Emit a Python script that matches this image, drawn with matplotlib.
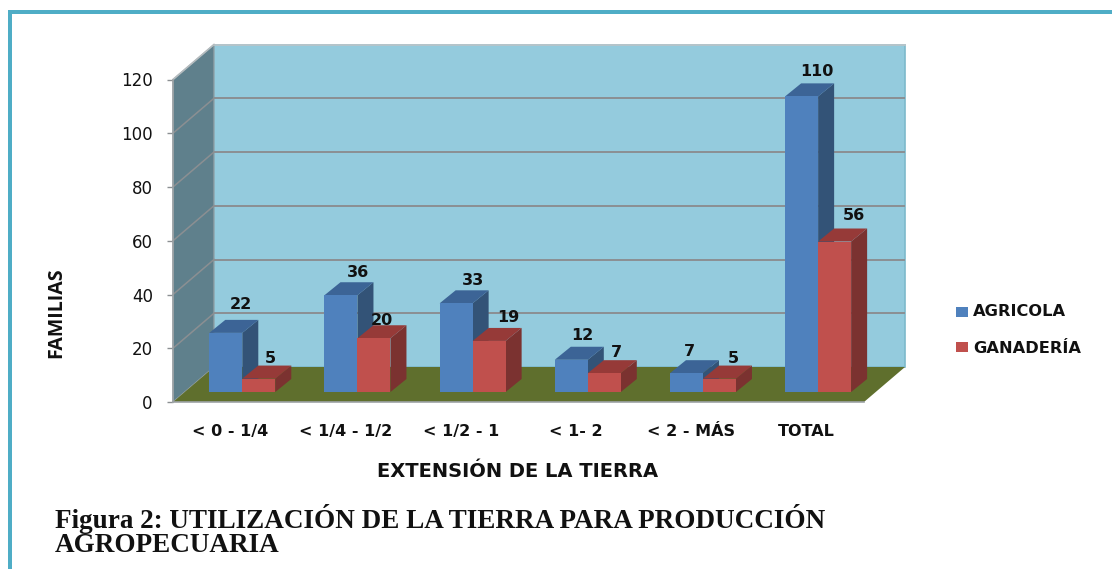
import matplotlib
matplotlib.use("Agg")
import matplotlib.pyplot as plt
from matplotlib.patches import Polygon, Rectangle

categories = ["< 0 - 1/4", "< 1/4 - 1/2", "< 1/2 - 1", "< 1- 2", "< 2 - MÁS", "TOTAL"]
agricola = [22, 36, 33, 12, 7, 110]
ganaderia = [5, 20, 19, 7, 5, 56]
y_ticks = [0, 20, 40, 60, 80, 100, 120]

W, H = 1112, 569
fig = plt.figure(figsize=(W / 100, H / 100), dpi=100, facecolor="white")

# overlay in pixel coords for the frame and caption
bg = fig.add_axes([0, 0, 1, 1])
bg.set_xlim(0, W)
bg.set_ylim(H, 0)
bg.axis("off")
frame = "#4FADC6"
bg.add_patch(Rectangle((8, 10), 4, H - 10, color=frame, lw=0))
bg.add_patch(Rectangle((8, 10), W - 8, 4, color=frame, lw=0))

# front plane of the 3d box: x 173-864 px, y 402-79.5 px
left, right, bottom, top = 173, 864, 402, 79.5
ax = fig.add_axes([left / W, 1 - bottom / H, (right - left) / W, (bottom - top) / H], facecolor="none")
ax.set_xlim(0, 6)
ax.set_ylim(0, 120)
ax.patch.set_visible(False)

# depth of the box in data units
box_dx = 41 / 115.17
box_dy = 35 / 2.6875
# bars sit part way into the box
base_dx = box_dx * 10 / 35
base_dy = box_dy * 10 / 35
bar_w = 0.2865
bar_dx = 16 / 115.17
bar_dy = 13 / 2.6875

# hand placed label nudges in px (x, up), the original labels are not regular
nudge_a = [(4, 4), (6, -2), (5, -2), (0, 0), (-8, -3), (4, 0)]
nudge_g = [(0, -4), (-4, -7), (8, -1), (1, -4), (2, -4), (8, 1)]


def poly(pts, color, z, edge="none", lw=0):
    ax.add_patch(Polygon(pts, closed=True, facecolor=color, edgecolor=edge, lw=lw,
                         zorder=z, clip_on=False))


# walls and floor
poly([(box_dx, box_dy), (6 + box_dx, box_dy), (6 + box_dx, 120 + box_dy), (box_dx, 120 + box_dy)],
     "#94CBDD", 1, "#7DB9CB", 1.2)
poly([(0, 0), (box_dx, box_dy), (box_dx, 120 + box_dy), (0, 120)], "#5F808C", 1, "#9AA5A9", 0.8)
poly([(0, 0), (6, 0), (6 + box_dx, box_dy), (box_dx, box_dy)], "#5F6F2D", 2)

# gridlines on both walls
for v in y_ticks[1:-1]:
    ax.plot([box_dx, 6 + box_dx], [v + box_dy, v + box_dy], color="#8B8F92", lw=1.4, zorder=3,
            clip_on=False, solid_capstyle="butt")
    ax.plot([0, box_dx], [v, v + box_dy], color="#8B8F92", lw=1.1, zorder=3, clip_on=False)
ax.plot([box_dx, 6 + box_dx], [120 + box_dy, 120 + box_dy], color="#B5C5CA", lw=1.4, zorder=3, clip_on=False)
ax.plot([0, box_dx], [120, 120 + box_dy], color="#B5BCBF", lw=1.2, zorder=3, clip_on=False)


def bar3d(x, v, front, side, roof, z):
    x0 = x + base_dx
    x1 = x0 + bar_w
    y0 = base_dy
    y1 = base_dy + v
    poly([(x1, y0), (x1 + bar_dx, y0 + bar_dy), (x1 + bar_dx, y1 + bar_dy), (x1, y1)], side, z)
    poly([(x0, y1), (x1, y1), (x1 + bar_dx, y1 + bar_dy), (x0 + bar_dx, y1 + bar_dy)], roof, z)
    poly([(x0, y0), (x1, y0), (x1, y1), (x0, y1)], front, z + 0.1)


for i, cat in enumerate(categories):
    x_a = i + 0.5 - bar_w
    x_g = i + 0.5
    bar3d(x_a, agricola[i], "#4F81BD", "#335377", "#3C6496", 4 + i)
    bar3d(x_g, ganaderia[i], "#C0504D", "#7B3230", "#963A38", 4.5 + i)
    for x, v, n in ((x_a, agricola[i], nudge_a[i]), (x_g, ganaderia[i], nudge_g[i])):
        ax.annotate(str(v), (x + base_dx + bar_w / 2 + bar_dx / 2 + 0.03, v + base_dy + bar_dy + 1.5),
                    xytext=(n[0] * 0.72, n[1] * 0.72), textcoords="offset points",
                    ha="center", va="bottom", fontsize=11.5, fontweight="bold", color="#111111",
                    family="DejaVu Sans", zorder=20, annotation_clip=False)

ax.set_xticks([i + 0.5 for i in range(6)])
ax.set_xticklabels(categories, fontsize=11.5, fontweight="bold", color="#111111", family="DejaVu Sans")
ax.tick_params(axis="x", length=0, pad=16)
ax.set_yticks(y_ticks)
ax.set_yticklabels(y_ticks, fontsize=12, color="#111111", family="DejaVu Sans")
ax.tick_params(axis="y", length=4.5, width=1, color="#8B8F92", pad=10)
for s in ["top", "right"]:
    ax.spines[s].set_visible(False)
for s in ["left", "bottom"]:
    ax.spines[s].set_color("#9DA3A6")
    ax.spines[s].set_linewidth(1.2)
    ax.spines[s].set_zorder(3)

bg.text(518, 471, "EXTENSIÓN DE LA TIERRA", ha="center", va="center", fontsize=14,
        fontweight="bold", color="#111111", family="DejaVu Sans")
bg.text(56, 313, "FAMILIAS", ha="center", va="center", rotation=90, fontsize=14,
        fontweight="bold", color="#111111", family="Open Sans")

# legend
bg.add_patch(Rectangle((955.5, 306.5), 12, 10, color="#4F81BD", lw=0))
bg.add_patch(Rectangle((955.5, 342), 12, 10, color="#C0504D", lw=0))
bg.text(973, 311, "AGRICOLA", va="center", fontsize=11.7, fontweight="bold", color="#111111", family="DejaVu Sans")
bg.text(973, 348, "GANADERÍA", va="center", fontsize=11.7, fontweight="bold", color="#111111", family="DejaVu Sans")

# caption
bg.text(55, 519, "Figura 2: UTILIZACIÓN DE LA TIERRA PARA PRODUCCIÓN", va="center", fontsize=19.5,
        fontweight="bold", color="#111111", family="Liberation Serif")
bg.text(55, 545, "AGROPECUARIA", va="center", fontsize=19.5,
        fontweight="bold", color="#111111", family="Liberation Serif")

fig.savefig("out.png", dpi=100)
